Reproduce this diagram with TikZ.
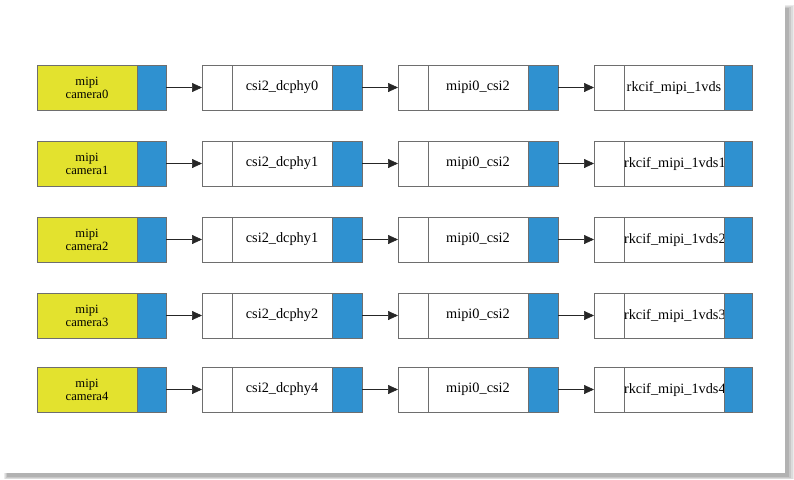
\documentclass[tikz,border=0pt]{standalone}
\usepackage{fontspec}
\setmainfont{Liberation Serif}
\usetikzlibrary{arrows.meta}
\definecolor{camyellow}{RGB}{227,226,46}
\definecolor{portblue}{RGB}{47,145,208}
\definecolor{edgegray}{RGB}{110,110,110}
\tikzset{
  cell/.style={draw=edgegray, line width=0.8pt, inner sep=0pt, outer sep=0pt, minimum height=45pt, anchor=west},
  cam/.style={cell, fill=camyellow, minimum width=100pt, align=center, font=\fontsize{12.6}{13}\selectfont},
  port/.style={cell, fill=portblue, minimum width=29pt},
  inport/.style={cell, fill=white, minimum width=30pt},
  body/.style={cell, fill=white, minimum width=100pt, font=\fontsize{14.3}{16}\selectfont},
  outport/.style={cell, fill=portblue, minimum width=30pt},
  link/.style={draw=black!85, line width=0.7pt, -{Triangle[length=10pt,width=9pt]}}
}
\begin{document}
\begin{tikzpicture}[x=1pt,y=-1pt]
\useasboundingbox (0,0) rectangle (794,479);
% panel shadow
\fill[black!8] (4,5) rectangle (794,479);
\fill[black!14] (5,6) rectangle (793,478.5);
\fill[black!22] (6,7) rectangle (791,478);
\fill[black!30] (7,8) rectangle (789,477);
\fill[white] (3,3) rectangle (785,473);
\foreach \r/\y/\cname/\dname/\lname in {0/87.5/camera0/csi2\_dcphy0/rkcif\_mipi\_1vds,
  1/163.5/camera1/csi2\_dcphy1/rkcif\_mipi\_1vds1,
  2/239.5/camera2/csi2\_dcphy1/rkcif\_mipi\_1vds2,
  3/315.5/camera3/csi2\_dcphy2/rkcif\_mipi\_1vds3,
  4/389.5/camera4/csi2\_dcphy4/rkcif\_mipi\_1vds4} {
  \node[cam] (cam\r) at (37,\y) {mipi\\\cname};
  \node[port] (camp\r) at (137,\y) {};
  \node[inport] (ai\r) at (202,\y) {};
  \node[body] (a\r) at (232,\y) {\dname};
  \node[outport] (ao\r) at (332,\y) {};
  \node[inport] (bi\r) at (398,\y) {};
  \node[body] (b\r) at (428,\y) {mipi0\_csi2};
  \node[outport] (bo\r) at (528,\y) {};
  \node[inport] (ci\r) at (594,\y) {};
  \node[body] (c\r) at (624,\y) {\lname};
  \node[outport, minimum width=28pt] (co\r) at (724,\y) {};
  \draw[link] (camp\r) -- (ai\r);
  \draw[link] (ao\r) -- (bi\r);
  \draw[link] (bo\r) -- (ci\r);
}
\end{tikzpicture}
\end{document}
